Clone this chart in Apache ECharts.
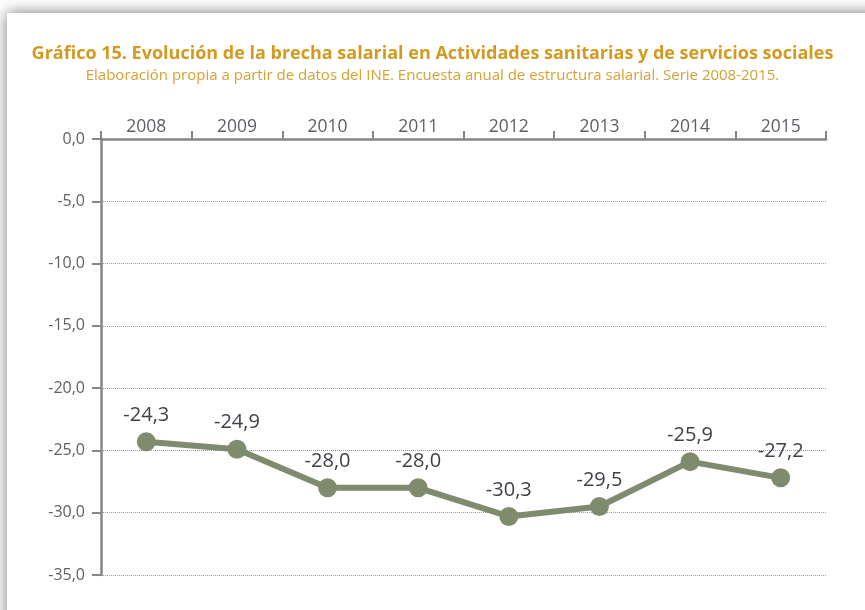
<!DOCTYPE html>
<html>
<head>
<meta charset="utf-8">
<script src="https://cdn.jsdelivr.net/npm/echarts@6/dist/echarts.min.js"></script>
<style>
html,body{margin:0;padding:0;background:#fff;}
#c{width:865px;height:610px;}
</style>
</head>
<body>
<div id="c"></div>
<script>
var titleText = 'Gráfico 15. Evolución de la brecha salarial en Actividades sanitarias y de servicios sociales';
var subtitleText = 'Elaboración propia a partir de datos del INE. Encuesta anual de estructura salarial. Serie 2008-2015.';
var years = ['2008','2009','2010','2011','2012','2013','2014','2015'];
var brecha = [-24.3, -24.9, -28.0, -28.0, -30.3, -29.5, -25.9, -27.2];
var yMin = -35, yMax = 0, yStep = 5;

function fmt(v){ return v.toFixed(1).replace('.', ','); }

var chart = echarts.init(document.getElementById('c'), null, {renderer:'canvas'});
chart.setOption({
  backgroundColor: '#ffffff',
  animation: false,
  graphic: [{
    type: 'rect', z: -10, silent: true,
    shape: {x: 7, y: 13, width: 900, height: 700},
    style: {fill: '#ffffff', shadowBlur: 14, shadowColor: 'rgba(0,0,0,0.55)', shadowOffsetX: 0, shadowOffsetY: 0}
  }],
  title: {
    text: titleText,
    subtext: subtitleText,
    left: 'center',
    top: 40,
    itemGap: 5,
    textStyle: {color: '#d39a1f', fontFamily: 'Open Sans', fontWeight: 'bold', fontSize: 18},
    subtextStyle: {color: '#d6a130', fontFamily: 'Open Sans', fontSize: 15}
  },
  grid: {left: 101, right: 39, top: 139, bottom: 35},
  xAxis: {
    type: 'category',
    position: 'top',
    data: years,
    boundaryGap: true,
    axisLine: {lineStyle: {color: '#858585', width: 2.5}},
    axisTick: {show: true, length: 8, interval: 0, lineStyle: {color: '#858585', width: 2}},
    axisLabel: {color: '#5f5f66', fontFamily: 'Open Sans', fontSize: 17.5, margin: 3, interval: 0},
    splitLine: {show: false}
  },
  yAxis: {
    type: 'value',
    min: yMin, max: yMax, interval: yStep,
    axisLine: {show: true, lineStyle: {color: '#858585', width: 2.5}},
    axisTick: {show: true, length: 9, lineStyle: {color: '#858585', width: 2}},
    axisLabel: {color: '#5f5f66', fontFamily: 'Open Sans', fontSize: 16, margin: 16, formatter: function(v){ return fmt(v); }},
    splitLine: {show: true, lineStyle: {color: '#9a9a9a', type: 'dotted', width: 1}}
  },
  series: [{
    type: 'line',
    data: brecha,
    symbol: 'circle',
    symbolSize: 19,
    lineStyle: {color: '#7f8b6d', width: 6},
    itemStyle: {color: '#7f8b6d'},
    label: {
      show: true, position: 'top', distance: 7,
      color: '#3f3f48', fontFamily: 'Open Sans', fontSize: 20,
      formatter: function(p){ return fmt(p.value); }
    }
  }]
});
</script>
</body>
</html>
